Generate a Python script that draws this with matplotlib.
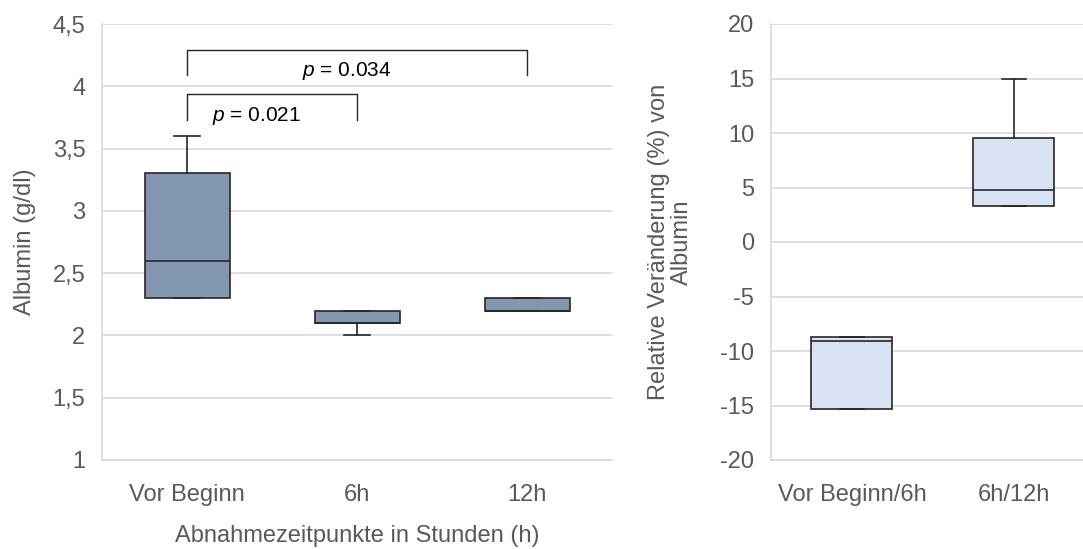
import numpy as np
import matplotlib
matplotlib.use("Agg")
import matplotlib.pyplot as plt

plt.rcParams['font.family'] = ['Liberation Sans', 'DejaVu Sans']
plt.rcParams['mathtext.fontset'] = 'custom'
plt.rcParams['mathtext.it'] = 'Liberation Sans:italic'
plt.rcParams['mathtext.rm'] = 'Liberation Sans'
plt.rcParams['axes.unicode_minus'] = False

# left panel: albumin values (g/dl)
zeitpunkte = ['Vor Beginn', '6h', '12h']
alb_whislo = [2.3, 2.0, 2.2]
alb_q1 = [2.3, 2.1, 2.2]
alb_med = [2.6, 2.1, 2.2]
alb_q3 = [3.3, 2.2, 2.3]
alb_whishi = [3.6, 2.2, 2.3]
alb_yticks = [1, 1.5, 2, 2.5, 3, 3.5, 4, 4.5]
alb_yticklabels = ['1', '1,5', '2', '2,5', '3', '3,5', '4', '4,5']

# right panel: relative change (%)
intervalle = ['Vor Beginn/6h', '6h/12h']
rel_whislo = [-15.3, 3.3]
rel_q1 = [-15.3, 3.3]
rel_med = [-9.1, 4.8]
rel_q3 = [-8.7, 9.5]
rel_whishi = [-8.7, 15.0]
rel_yticks = [-20, -15, -10, -5, 0, 5, 10, 15, 20]

# significance brackets (from, to, p)
brackets = [(1, 3, 'p = 0.034'), (1, 2, 'p = 0.021')]

TXT = '#595959'
GRID = '#D9D9D9'
EDGE = '#262626'
FS = 17


def stats(lo, q1, med, q3, hi):
    return [dict(whislo=a, q1=b, med=c, q3=d, whishi=e, fliers=[])
            for a, b, c, d, e in zip(lo, q1, med, q3, hi)]


def style(ax):
    ax.set_axisbelow(True)
    ax.yaxis.grid(True, color=GRID, lw=1.2)
    for s in ['top', 'right']:
        ax.spines[s].set_visible(False)
    for s in ['left', 'bottom']:
        ax.spines[s].set_color(GRID)
        ax.spines[s].set_linewidth(1.2)
    ax.tick_params(length=0, labelsize=FS, colors=TXT)
    ax.tick_params(axis='y', pad=12)
    ax.tick_params(axis='x', pad=17)


def draw_box(ax, st, fill):
    ax.bxp(st, positions=np.arange(1, len(st) + 1), widths=0.5, patch_artist=True,
           showfliers=False, capwidths=0.15,
           boxprops=dict(facecolor=fill, edgecolor=EDGE, lw=1.2),
           medianprops=dict(color=EDGE, lw=1.2),
           whiskerprops=dict(color=EDGE, lw=1.2),
           capprops=dict(color=EDGE, lw=1.2))


fig = plt.figure(figsize=(10.83, 5.49), dpi=100)

ax1 = fig.add_axes([102 / 1083, 1 - 460 / 549, 510 / 1083, 436 / 549])
style(ax1)
draw_box(ax1, stats(alb_whislo, alb_q1, alb_med, alb_q3, alb_whishi), '#8497B0')
ax1.set_xlim(0.5, 3.5)
ax1.set_ylim(1, 4.5)
ax1.set_yticks(alb_yticks)
ax1.set_yticklabels(alb_yticklabels)
ax1.set_xticks(range(1, 4))
ax1.set_xticklabels(zeitpunkte)
ax1.set_ylabel('Albumin (g/dl)', fontsize=FS, color=TXT, labelpad=12)
ax1.set_xlabel('Abnahmezeitpunkte in Stunden (h)', fontsize=FS, color=TXT, labelpad=14)

# brackets with p values
tops = [4.29, 3.935]
legs = [4.09, 3.73]
for (a, b, txt), yt, yl in zip(brackets, tops, legs):
    ax1.plot([a, a, b, b], [yl, yt, yt, yl], color=EDGE, lw=1.0,
             solid_joinstyle='round')
    lab = r'$\it{p}$' + txt[1:]
    ax1.text((a + b) / 2 - (0.06 if b == 3 else 0.09), yt - 0.17, lab,
             ha='center', va='center', fontsize=15, color='black')

ax2 = fig.add_axes([771 / 1083, 1 - 460 / 549, 324 / 1083, 436 / 549])
style(ax2)
draw_box(ax2, stats(rel_whislo, rel_q1, rel_med, rel_q3, rel_whishi), '#DAE3F3')
ax2.set_xlim(0.5, 2.5)
ax2.set_ylim(-20, 20)
ax2.set_yticks(rel_yticks)
ax2.set_xticks(range(1, 3))
ax2.set_xticklabels(intervalle)
ax2.set_ylabel('Relative Veränderung (%) von\nAlbumin', fontsize=FS, color=TXT,
               labelpad=20, linespacing=1.05)

fig.savefig('out.png', dpi=100)
